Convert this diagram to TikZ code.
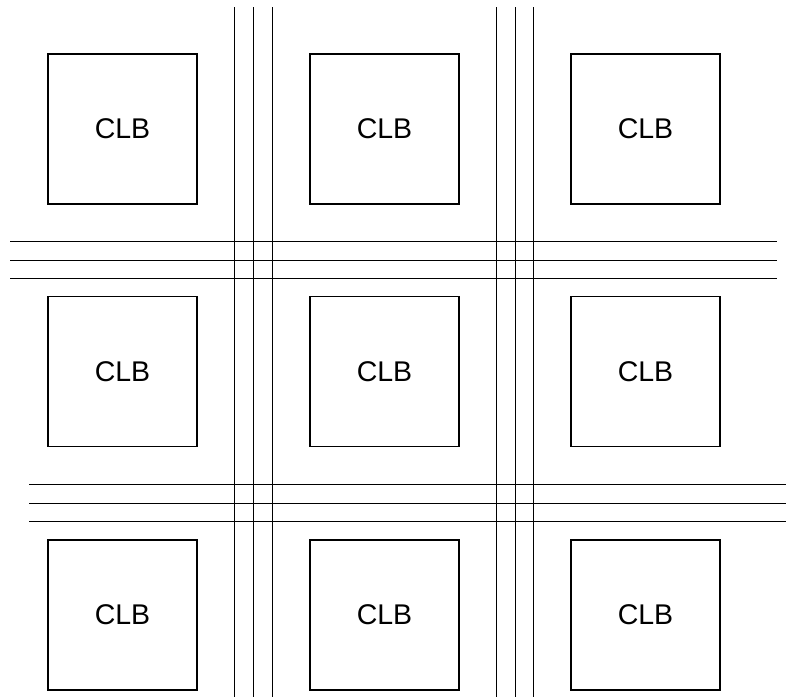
\documentclass[tikz,border=0pt]{standalone}
\usepackage{fontspec}
\setmainfont{Liberation Sans}
\begin{document}
\begin{tikzpicture}[x=1pt,y=-1pt,
  clb/.style={draw,line width=1.3pt,minimum width=149pt,minimum height=150pt,inner sep=0pt,
    font=\fontsize{28.5}{30}\selectfont},
  wire/.style={line width=1.2pt}]
\useasboundingbox (0,0) rectangle (786,697);
% CLB blocks
\node[clb] (b11) at (122.5,129) {CLB};
\node[clb] (b12) at (384.5,129) {CLB};
\node[clb] (b13) at (645.5,129) {CLB};
\node[clb] (b21) at (122.5,371.5) {CLB};
\node[clb] (b22) at (384.5,371.5) {CLB};
\node[clb] (b23) at (645.5,371.5) {CLB};
\node[clb] (b31) at (122.5,615) {CLB};
\node[clb] (b32) at (384.5,615) {CLB};
\node[clb] (b33) at (645.5,615) {CLB};
% vertical routing channels
\foreach \x in {234.5,253.5,272.5,496.5,515.5,533.5}
  \draw[wire] (\x,7) -- (\x,697);
% horizontal routing channels
\foreach \y in {241.5,260.5,278.5}
  \draw[wire] (10,\y) -- (776.7,\y);
\foreach \y in {484.5,503.5,521.5}
  \draw[wire] (29,\y) -- (786,\y);
\end{tikzpicture}
\end{document}
